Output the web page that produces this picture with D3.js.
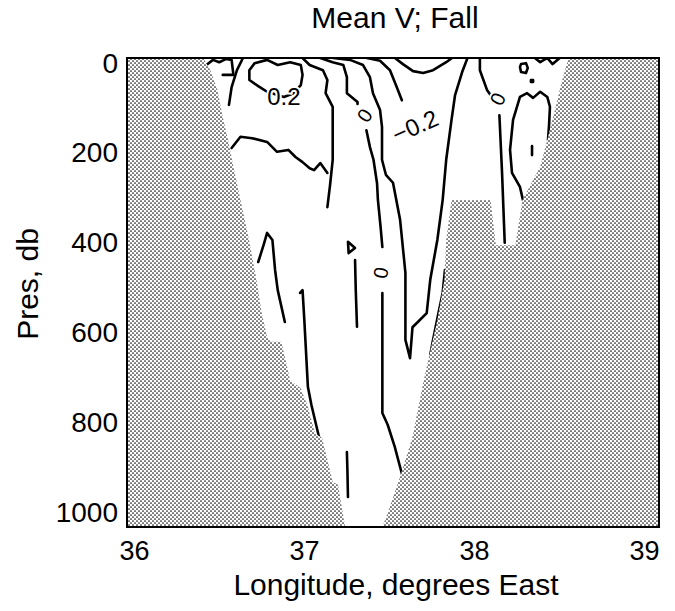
<!DOCTYPE html>
<html><head><meta charset="utf-8">
<script src="https://cdn.jsdelivr.net/npm/d3@7"></script>
<style>body{margin:0;background:#fff;} svg{display:block;}</style>
</head><body>
<svg id="chart" width="675" height="611"></svg>
<script>
// ---------- data ----------
const chartTitle = "Mean V; Fall";
const xTitle = "Longitude, degrees East";
const yTitle = "Pres, db";
const xTicks = [36, 37, 38, 39];
const yTicks = [0, 200, 400, 600, 800, 1000];
const lonDomain = [36, 39];
const presDomain = [0, 1000];

// bathymetry (shaded) outlines: [longitude, pressure]
const bathyWest = [[36.00,0],[36.43,0],[36.47,26],[36.51,68],[36.54,126],[36.57,175],[36.60,232],[36.64,303],[36.68,373],[36.72,452],[36.73,473],[36.76,544],[36.79,595],[36.81,605],[36.87,605],[36.89,637],[36.92,687],[36.98,704],[37.02,744],[37.06,800],[37.10,810],[37.14,872],[37.16,904],[37.19,910],[37.23,1000],[36.00,1000]];
const bathyEast = [[38.49,0],[39.00,0],[39.00,1000],[37.44,1000],[37.47,970],[37.54,893],[37.61,808],[37.67,693],[37.72,608],[37.75,559],[37.79,473],[37.80,388],[37.83,303],[38.05,303],[38.08,399],[38.19,399],[38.23,303],[38.33,232],[38.37,175],[38.42,100],[38.45,53]];

// contour lines of mean V: [longitude, pressure]
const c01 = [[36.44,17],[36.485,4],[36.52,9],[36.56,2],[36.59,4],[36.60,36],[36.54,36]];
const c02 = [[36.654,0],[36.62,26],[36.59,62],[36.575,100]];
const c03 = [[36.79,72],[36.74,60],[36.69,47],[36.69,26],[36.72,11],[36.79,4],[36.85,15],[36.92,9],[36.98,15],[36.99,36],[36.98,58],[36.94,75],[36.885,83],[36.79,72]];
const c04 = [[36.99,0],[37.03,15],[37.105,26],[37.13,47],[37.12,75],[37.16,104],[37.16,136],[37.16,217],[37.145,271],[37.13,318]];
const c05 = [[36.59,192],[36.64,168],[36.705,171],[36.79,179],[36.846,200],[36.91,196],[36.95,211],[36.99,222],[37.03,235],[37.055,239],[37.09,224],[37.13,245]];
const c06a = [[37.09,0],[37.16,9],[37.22,15],[37.24,41],[37.24,75],[37.30,94],[37.30,98]];
const c06b = [[37.35,154],[37.37,190],[37.39,217],[37.41,267],[37.415,303],[37.43,360],[37.44,403]];
const c06c = [[37.44,501],[37.44,580],[37.44,757],[37.47,782],[37.51,829],[37.54,872],[37.56,900]];
const c07 = [[37.162,0],[37.258,4],[37.331,15],[37.37,41],[37.387,75],[37.427,111],[37.438,147],[37.438,217],[37.46,249],[37.50,266],[37.54,345],[37.57,458],[37.57,601],[37.596,640],[37.61,574],[37.64,563],[37.69,544],[37.71,473],[37.75,388],[37.78,303],[37.80,217],[37.83,132],[37.85,79],[37.89,30],[37.92,0]];
const c07a = [[37.353,0],[37.427,6],[37.483,26],[37.517,58],[37.55,90]];
const c08 = [[37.511,0],[37.556,13],[37.613,28],[37.67,32],[37.726,26],[37.80,9],[37.833,0]];
const c09a = [[37.99,0],[37.99,26],[38.03,68],[38.05,79]];
const c09b = [[38.10,122],[38.115,245],[38.13,394]];
const c10 = [[38.233,303],[38.216,275],[38.171,245],[38.16,196],[38.177,132],[38.216,83],[38.256,75],[38.29,85],[38.33,72],[38.37,83],[38.385,104],[38.38,143],[38.374,175]];
const c11 = [[38.284,188],[38.284,207]];
const c12 = [[38.222,13],[38.25,11],[38.26,21],[38.25,32],[38.222,30],[38.216,19],[38.222,13]];
const c13 = [[38.278,47],[38.29,47],[38.29,51],[38.278,51],[38.278,47]];
const c14 = [[38.30,0],[38.33,9],[38.37,0],[38.40,13],[38.44,0]];
const c15 = [[36.74,435],[36.77,399],[36.79,373],[36.82,388],[36.835,452],[36.85,495],[36.89,563]];
const c16 = [[36.976,501],[36.99,495],[37.00,559],[37.02,701],[37.04,740],[37.08,804],[37.10,836]];
const c17 = [[37.24,840],[37.243,880],[37.246,936]];
const c18 = [[37.286,431],[37.29,495],[37.297,573]];
const c19 = [[37.246,392],[37.286,405],[37.25,416],[37.246,392]];
const c20 = [[37.793,452],[37.78,501],[37.754,548],[37.726,601],[37.71,633]];
const contours = [c01,c02,c03,c04,c05,c06a,c06b,c06c,c07,c07a,c08,c09a,c09b,c10,c11,c12,c13,c14,c15,c16,c17,c18,c19,c20];

// inline contour labels
const labelText = ["0.2", "\u22120.2", "0", "0", "0"];
const labelLon  = [36.885, 37.624, 37.34, 37.43, 38.09];
const labelPres = [82, 145, 122, 458, 87];

// ---------- drawing ----------
const labelAngle = [0, -24, -55, -80, -65];
const labelSize = [24, 24, 20, 20, 20];
const svg = d3.select("#chart");
const L = 127, R = 659, T = 58, B = 527;
const x = d3.scaleLinear().domain(lonDomain).range([L, R]);
const y = d3.scaleLinear().domain(presDomain).range([T, B]);
const xt = d3.scaleLinear().domain(lonDomain).range([134, 644]);
const yt = d3.scaleLinear().domain(presDomain).range([62, 511]);
const font = "'Liberation Sans', Arial, Helvetica, sans-serif";

const defs = svg.append("defs");
const pat = defs.append("pattern").attr("id", "stipple")
  .attr("patternUnits", "userSpaceOnUse").attr("width", 4).attr("height", 4);
pat.append("rect").attr("width", 4).attr("height", 4).attr("fill", "#fff");
pat.append("circle").attr("cx", 1).attr("cy", 1).attr("r", 0.85).attr("fill", "#111");
pat.append("circle").attr("cx", 3).attr("cy", 3).attr("r", 0.85).attr("fill", "#111");
defs.append("clipPath").attr("id", "plotclip").append("rect")
  .attr("x", L).attr("y", T).attr("width", R - L).attr("height", B - T);

const plot = svg.append("g").attr("clip-path", "url(#plotclip)");
const line = d3.line().x(d => x(d[0])).y(d => y(d[1]));

plot.append("g").selectAll("path").data(contours).join("path")
  .attr("d", line).attr("fill", "none").attr("stroke", "#000")
  .attr("stroke-width", 2.6).attr("stroke-linejoin", "round").attr("stroke-linecap", "round");

plot.append("g").selectAll("path").data([bathyWest, bathyEast]).join("path")
  .attr("d", d => line(d) + "Z").attr("fill", "url(#stipple)").attr("stroke", "none");

plot.append("g").selectAll("text").data(labelText).join("text")
  .attr("transform", (d, i) => `translate(${x(labelLon[i])},${y(labelPres[i])}) rotate(${labelAngle[i]})`)
  .attr("text-anchor", "middle").attr("dy", "0.36em")
  .attr("font-family", font).attr("font-size", (d, i) => labelSize[i])
  .attr("fill", "#000").attr("stroke", "#fff").attr("stroke-width", 4)
  .attr("paint-order", "stroke").text(d => d);

svg.append("rect").attr("x", L).attr("y", T).attr("width", R - L).attr("height", B - T)
  .attr("fill", "none").attr("stroke", "#000").attr("stroke-width", 2);

const gx = svg.append("g").attr("transform", "translate(0,541)")
  .call(d3.axisBottom(xt).tickValues(xTicks).tickSize(0).tickPadding(0).tickFormat(d3.format("d")));
gx.select(".domain").remove();
gx.selectAll("text").attr("font-size", 27).attr("font-family", font).attr("fill", "#000");

const gy = svg.append("g").attr("transform", "translate(118,0)")
  .call(d3.axisLeft(yt).tickValues(yTicks).tickSize(0).tickPadding(0).tickFormat(d3.format("d")));
gy.select(".domain").remove();
gy.selectAll("text").attr("font-size", 28).attr("font-family", font).attr("fill", "#000").attr("dy", "0.36em");

svg.append("text").attr("x", 395).attr("y", 28).attr("text-anchor", "middle")
  .attr("font-family", font).attr("font-size", 30).text(chartTitle);
svg.append("text").attr("x", 396).attr("y", 595).attr("text-anchor", "middle")
  .attr("font-family", font).attr("font-size", 30).text(xTitle);
svg.append("text").attr("transform", "translate(38,284) rotate(-90)").attr("text-anchor", "middle")
  .attr("font-family", font).attr("font-size", 30).text(yTitle);
</script>
</body></html>
